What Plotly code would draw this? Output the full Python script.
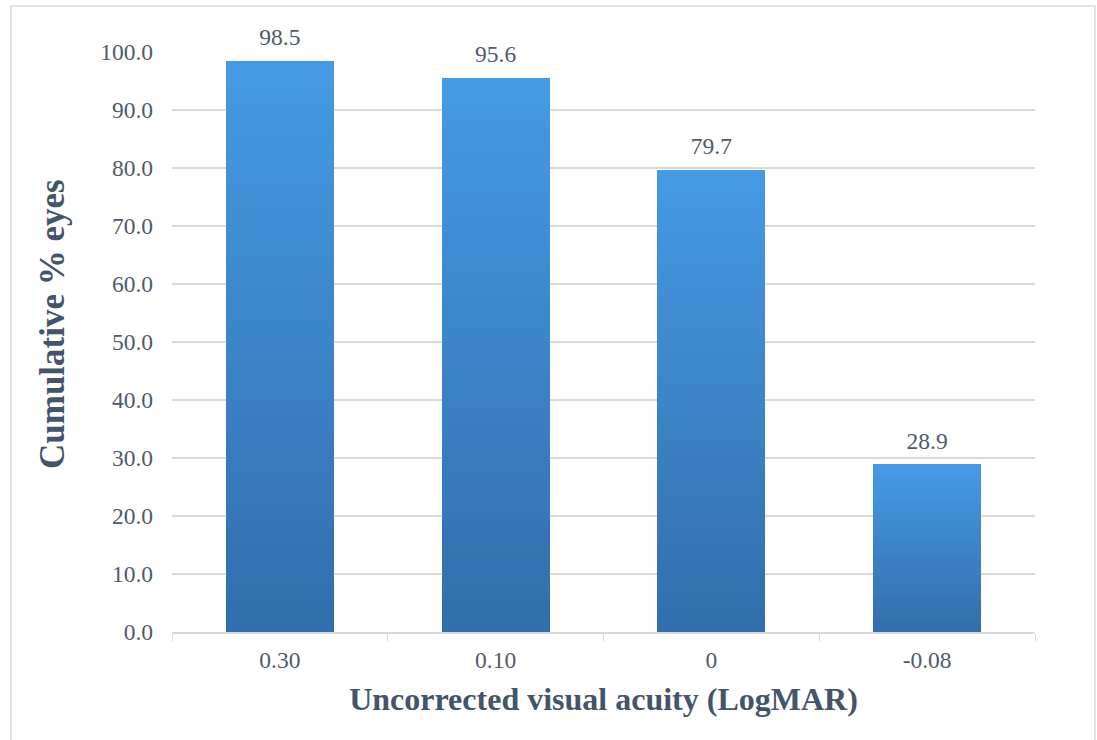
import plotly.graph_objects as go

categories = ["0.30", "0.10", "0", "-0.08"]
values = [98.5, 95.6, 79.7, 28.9]
y_ticks = [0, 10, 20, 30, 40, 50, 60, 70, 80, 90, 100]

top_rgb = (69, 154, 227)
bot_rgb = (50, 110, 172)
n_slices = 60
SERIF = "'Liberation Serif', 'Times New Roman', 'DejaVu Serif', serif"
TICK_SIZE = 23.5

fig = go.Figure()
for i in range(n_slices):
    t = i / (n_slices - 1)
    c = tuple(round(b + (tp - b) * t) for b, tp in zip(bot_rgb, top_rgb))
    fig.add_trace(go.Bar(
        x=categories,
        y=[v / n_slices for v in values],
        marker=dict(color=f"rgb{c}", line=dict(width=0)),
        hoverinfo="skip",
        showlegend=False,
    ))

fig.add_trace(go.Scatter(
    x=categories, y=values, mode="markers+text",
    marker=dict(size=14, opacity=0),
    text=[f"{v:.1f}" for v in values],
    textposition="top center",
    textfont=dict(family=SERIF, size=TICK_SIZE, color="#505A68"),
    cliponaxis=False,
    showlegend=False, hoverinfo="skip",
))

fig.update_layout(
    width=1097, height=740,
    barmode="stack", bargap=0.5,
    paper_bgcolor="white", plot_bgcolor="white",
    margin=dict(l=172, r=62, t=52, b=108),
    font=dict(family=SERIF, size=TICK_SIZE, color="#505A68"),
    showlegend=False,
    xaxis=dict(
        type="category",
        showgrid=False,
        showline=True, linecolor="#D9D9D9", linewidth=1.5,
        ticks="outside", tickson="boundaries", ticklen=7, tickcolor="#D9D9D9",
        ticklabelstandoff=6,
        tickfont=dict(family=SERIF, size=TICK_SIZE, color="#505A68"),
        title=dict(text="<b>Uncorrected visual acuity (LogMAR)</b>",
                   font=dict(family=SERIF, size=32, color="#44546A"),
                   standoff=16),
    ),
    yaxis=dict(
        range=[0, 100], tickvals=y_ticks, tickformat=".1f",
        showgrid=True, gridcolor="#D9D9D9", gridwidth=1.5,
        zeroline=False, showline=False,
        ticks="", ticklabelstandoff=18,
        tickfont=dict(family=SERIF, size=TICK_SIZE, color="#505A68"),
    ),
    annotations=[dict(text="<b>Cumulative % eyes</b>", textangle=-90,
                      xref="paper", yref="paper",
                      x=(52 - 172) / 863, y=(632 - 324) / 580,
                      xanchor="center", yanchor="middle", showarrow=False,
                      font=dict(family=SERIF, size=35, color="#44546A"))],
    shapes=[dict(type="rect", xref="paper", yref="paper",
                 x0=(11 - 172) / 863, x1=(1095 - 172) / 863,
                 y0=(632 - 745) / 580, y1=(632 - 6) / 580,
                 line=dict(color="#D9D9D9", width=1.5), fillcolor="rgba(0,0,0,0)",
                 layer="below")],
)

fig.write_html("out.html", config={"displayModeBar": False},
               post_script="document.body.style.margin='0';")
